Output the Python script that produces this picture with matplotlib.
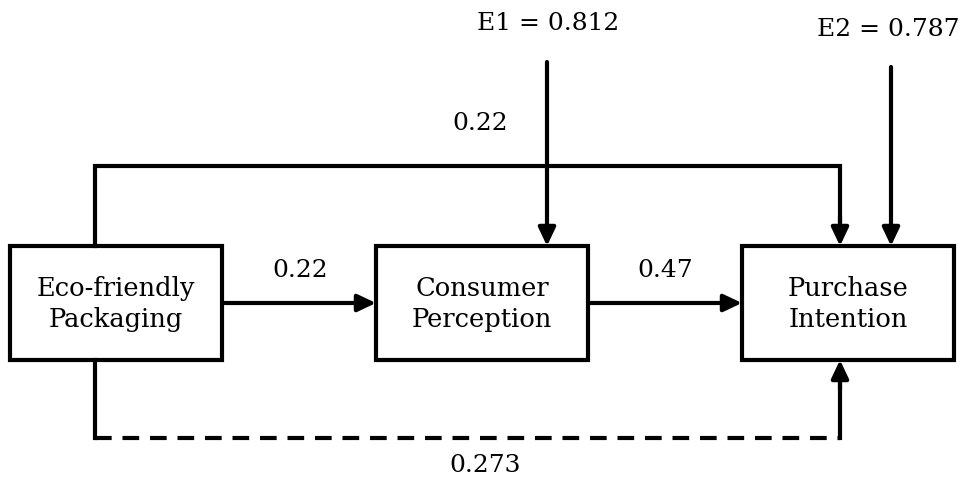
import matplotlib.pyplot as plt
from matplotlib.patches import Rectangle

# node labels and path coefficients
nodes = ["Eco-friendly\nPackaging", "Consumer\nPerception", "Purchase\nIntention"]
path_direct = 0.22      # Eco-friendly -> Purchase (top)
path_a = 0.22           # Eco-friendly -> Consumer
path_b = 0.47           # Consumer -> Purchase
path_total = 0.273      # Eco-friendly -> Purchase (dashed)
errors = ["E1", "E2"]
error_vals = [0.812, 0.787]

plt.rcParams['font.family'] = ['DejaVu Serif']
fig = plt.figure(figsize=(9.66, 4.9), dpi=100)
ax = fig.add_axes([0, 0, 1, 1])
ax.set_xlim(0, 966)
ax.set_ylim(490, 0)
ax.axis('off')

lw = 3
fs = 18
box_w, box_h = 212, 114
box_x = [10, 376, 742]
box_y = 246
mid_y = box_y + box_h / 2

for x, name in zip(box_x, nodes):
    ax.add_patch(Rectangle((x, box_y), box_w, box_h, fill=False, lw=lw, ec='black', zorder=3))
    ax.text(x + box_w / 2, mid_y + 1, name, ha='center', va='center', fontsize=18.5, linespacing=1.3)

def arrow(x0, y0, x1, y1):
    ax.annotate('', xy=(x1, y1), xytext=(x0, y0),
                arrowprops=dict(arrowstyle='-|>,head_length=1.1,head_width=0.52',
                                lw=lw, color='black', shrinkA=0, shrinkB=0))

# top direct path
left_x, right_x = 95, 840
top_y, bot_y = 166, 438
ax.plot([left_x, left_x, right_x, right_x], [box_y, top_y, top_y, box_y - 20],
        color='black', lw=lw, solid_joinstyle='miter')
arrow(right_x, box_y - 30, right_x, box_y)
ax.text(480, 123, f"{path_direct:.2f}", ha='center', va='center', fontsize=fs)

# mediated paths
arrow(box_x[0] + box_w, mid_y, box_x[1], mid_y)
arrow(box_x[1] + box_w, mid_y, box_x[2], mid_y)
ax.text(300, 270, f"{path_a:.2f}", ha='center', va='center', fontsize=fs)
ax.text(665, 270, f"{path_b:.2f}", ha='center', va='center', fontsize=fs)

# error terms
for ex, ey, lbl, val, tx, ty in [(547, 62, errors[0], error_vals[0], 548, 23),
                                 (891, 67, errors[1], error_vals[1], 888, 30)]:
    arrow(ex, ey, ex, box_y)
    ax.text(tx, ty, f"{lbl} = {val:.3f}", ha='center', va='center', fontsize=fs)

# bottom dashed path
ax.plot([left_x, left_x], [box_y + box_h, bot_y], color='black', lw=lw)
ax.plot([left_x, right_x], [bot_y, bot_y], color='black', lw=lw, dashes=(4, 2.6))
ax.plot([right_x, right_x], [bot_y, box_y + box_h + 20], color='black', lw=lw)
arrow(right_x, box_y + box_h + 30, right_x, box_y + box_h)
ax.text(485, 465, f"{path_total:.3f}", ha='center', va='center', fontsize=fs)

fig.savefig('out.png', dpi=100)
